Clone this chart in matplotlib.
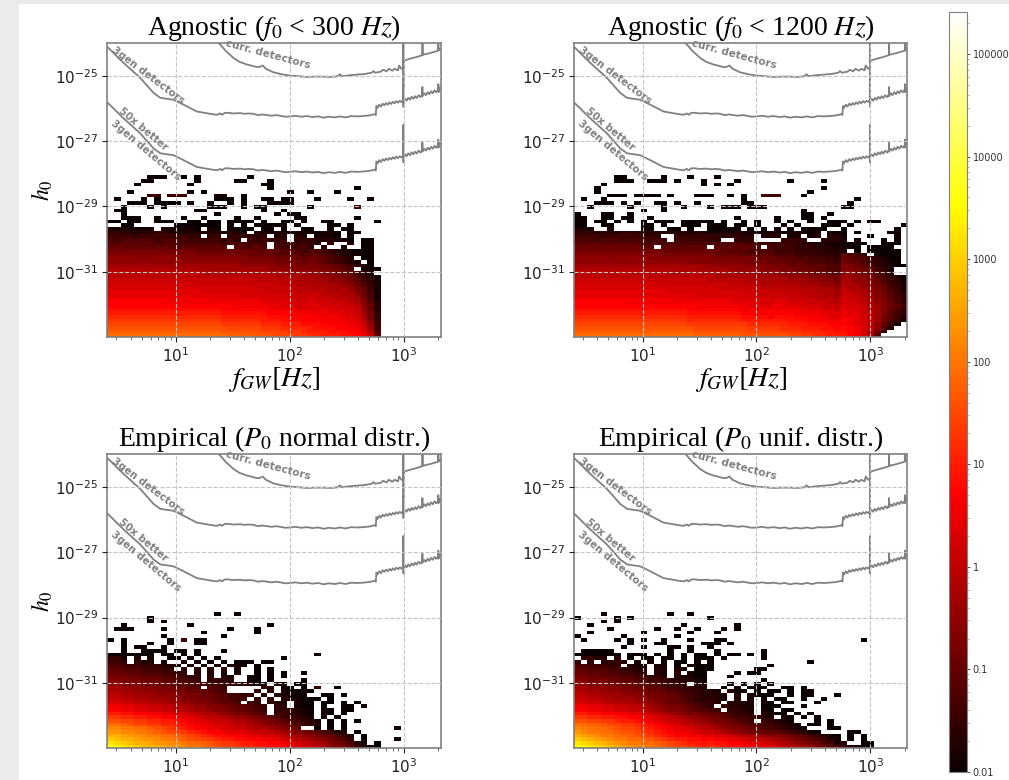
#!/usr/bin/env python3
import matplotlib
matplotlib.use('Agg')
import matplotlib.pyplot as plt
from matplotlib.colors import LogNorm
from matplotlib.patches import Rectangle
from matplotlib.ticker import FixedLocator, NullFormatter, LogLocator
import numpy as np

plt.rcParams['mathtext.fontset'] = 'stix'

TITLES = ['Agnostic ($f_0$ < 300 $Hz$)', 'Agnostic ($f_0$ < 1200 $Hz$)',
          'Empirical ($P_0$ normal distr.)', 'Empirical ($P_0$ unif. distr.)']
CBAR_TICKS = [0.01, 0.1, 1, 10, 100, 1000, 10000, 100000]
CBAR_LABELS = ['0.01', '0.1', '1', '10', '100', '1000', '10000', '100000']

# sensitivity curves, log10(f) and log10(h0)
LOGF_3GEN = [.401, .541, .687, .804, .863, .98, 1.067, 1.184, 1.316, 1.36, 1.39, 1.404, 1.43, 1.46, 1.5, 1.564,
             1.6, 1.64, 1.68, 1.72, 1.76, 1.8, 1.84, 1.88, 1.915, 1.96, 2.003, 2.05, 2.1, 2.15, 2.2, 2.25, 2.295,
             2.34, 2.4, 2.44, 2.49, 2.54, 2.588, 2.64, 2.7, 2.749, 2.755, 2.76, 2.77, 2.785, 2.8, 2.815, 2.83,
             2.845, 2.86, 2.875, 2.89, 2.905, 2.92, 2.935, 2.95, 2.965, 2.98, 2.996, 2.997, 2.998, 3.0, 3.012,
             3.025, 3.04, 3.055, 3.07, 3.085, 3.1, 3.114, 3.13, 3.148, 3.163, 3.164, 3.165, 3.18, 3.195, 3.21,
             3.225, 3.24, 3.255, 3.27, 3.285, 3.303, 3.304, 3.305, 3.319, 3.33]
LOGH_3GEN = [-24.12, -24.60, -25.06, -25.52, -25.67, -25.73, -25.88, -26.09, -26.17, -26.19, -26.15, -26.19, -26.13,
             -26.13, -26.15, -26.14, -26.16, -26.15, -26.16, -26.2, -26.18, -26.2, -26.22, -26.2, -26.22, -26.25,
             -26.24, -26.22, -26.25, -26.23, -26.26, -26.24, -26.28, -26.25, -26.27, -26.24, -26.27, -26.23, -26.24,
             -26.23, -26.21, -26.17, -26.2, -25.92, -25.98, -25.88, -25.94, -25.85, -25.9, -25.83, -25.88, -25.81,
             -25.86, -25.79, -25.84, -25.77, -25.82, -25.76, -25.8, -25.74, -25.25, -25.95, -25.74, -25.7, -25.76,
             -25.67, -25.73, -25.64, -25.7, -25.62, -25.68, -25.59, -25.65, -25.56, -25.34, -25.62, -25.53, -25.59,
             -25.5, -25.56, -25.47, -25.53, -25.44, -25.5, -25.42, -25.25, -25.5, -25.36, -25.4]
LOGH_50X = [-25.82, -26.30, -26.76, -27.22, -27.37, -27.43, -27.58, -27.79, -27.87, -27.89, -27.85, -27.89, -27.83,
            -27.83, -27.85, -27.84, -27.86, -27.85, -27.86, -27.9, -27.88, -27.9, -27.92, -27.9, -27.92, -27.95,
            -27.94, -27.92, -27.95, -27.93, -27.96, -27.94, -27.98, -27.95, -27.97, -27.94, -27.97, -27.93, -27.94,
            -27.93, -27.91, -27.87, -27.9, -27.62, -27.68, -27.58, -27.64, -27.55, -27.6, -27.53, -27.58, -27.51,
            -27.56, -27.49, -27.54, -27.47, -27.52, -27.46, -27.5, -27.44, -26.5, -27.65, -27.44, -27.4, -27.46,
            -27.37, -27.43, -27.34, -27.4, -27.32, -27.38, -27.29, -27.35, -27.26, -27.04, -27.32, -27.23, -27.29,
            -27.2, -27.26, -27.17, -27.23, -27.14, -27.2, -27.12, -26.95, -27.2, -27.06, -27.1]
LOGF_CURR = [1.374, 1.44, 1.506, 1.56, 1.623, 1.67, 1.71, 1.74, 1.763, 1.79, 1.857, 1.93, 2.003, 2.08, 2.149, 2.22,
             2.295, 2.36, 2.42, 2.44, 2.46, 2.52, 2.588, 2.66, 2.72, 2.734, 2.75, 2.8, 2.82, 2.85, 2.87, 2.9, 2.92,
             2.95, 2.96, 2.98, 2.996, 2.997, 2.998, 2.999, 3.012, 3.04, 3.07, 3.114, 3.15, 3.164, 3.165, 3.166,
             3.18, 3.23, 3.29, 3.303, 3.304, 3.305, 3.319, 3.33]
LOGH_CURR = [-23.98, -24.24, -24.45, -24.57, -24.65, -24.69, -24.73, -24.72, -24.68, -24.78, -24.89, -24.95, -24.99,
             -25.01, -25.03, -25.02, -25.02, -25.03, -25.01, -24.95, -25.01, -24.98, -24.96, -24.94, -24.9, -24.85,
             -24.9, -24.87, -24.81, -24.86, -24.78, -24.84, -24.78, -24.83, -24.68, -24.78, -24.76, -23.9, -25.4,
             -24.55, -24.52, -24.49, -24.46, -24.42, -24.38, -24.36, -23.9, -24.36, -24.34, -24.3, -24.24, -24.22,
             -23.9, -24.22, -24.17, -24.15]

# cell values, bottom row first: index in LEVELS, '.' is an empty cell
LEVELS = '0123456789abcdefghijklmnopqrstuvwxyzAB'
LEVEL_STEP = 0.15

CELLS_A = [
    'qqqqqqqqqq qqqqqqqqpp ppooonnnmm llkkkjjihe 6',
    'pppppppppp pppppppooo ooonnnmmml kkkjjjiigc 5',
    'oooooooooo oooooooonn nnnmmmllll kjjjiiihfb 4',
    'nnnnnnnnnn nnnnnnnmmm mmmlllkkkj jjiiihhgea 4',
    'mmmmmmmmmm mmmmmmmlll lllkkkjjji iiihhhggd9 3',
    'llllllllll lllllllkkk kkkkjjjiii ihhhhggfc8 3',
    'kkkkkkkkkk kkkkkkkjjj jjjjiiiihh hhhgggfeb8 3',
    'jjjjjjjjjj jjjjjjjiii iiiihhhhgg ggggfffea7 2',
    'iiiiiiiiii iiiiiiiiih hhhhhgggff ggfffeeda7 2',
    'iiiiiiiihh hhhhhhhhhh hhhggggfff fffeeedc96 2',
    'hhhhhhhhhh hhhhhggggg gggfffffee feeeddcb85 1',
    'gggggggggg gggggggggg fffffffeee eedddcca75 1',
    'gggggggggg ggggffffff ffffeeeedd dddcccb974 1',
    'ffffffffff ffffffffff ffeeeeeedd dcccbba864 1',
    'ffffffffff fffeeeeeee eeeeeedddc cccbba9753 1',
    'eeeeeeeeee eeeeeeeeee eeddddddcc cbbaa98643 1',
    'dddddddddd dddddddddd dddddccccb bbaa987532 1',
    'dddddddddd ddddcccccc ccccccbbbb aa99876421',
    'cccccccccc ccccbbbbbb bbbbaaa999 998876 5.11 0',
    'bbbbbbbbbb bbbbbbbbbb aaaaa99998 9887654310',
    'aaaaaaaaaa baaaaaaaaa 9999988887 876543 21.0',
    'aaaaa9aaaa a999999999 9888877776 776543 2.00',
    '9999999999 9998888888 8777766665 6654321100',
    '8888888888 8887777777 7776765654 5543211000',
    '6766666666 56666666.6 5565.54445 3.2..1..00',
    '6566666556 5555455455 5454.44434 32.3..2.00',
    '5455555455 4544444343 .434333.33 3222110.00',
    '4444344444 3433.33.33 3323.22.22 .1110.0',
    '3332222332 2122222122 1.21111111 10110.00',
    '2121111.11 1110.10.00 00.00.0..0 0..0.00',
    '..00...... 0000000.0. 0.00000.0. ...00.0',
    '00.00..000 ..00.00.00 00.0..00.0 ..00...... 0',
    '..000..0.. .0..0....0 ..0.....00 .......0',
    '..0....... ......0... .....0.00.',
    '.00....... ...00..... ...0..0...',
    '..0...0.0. .....000.. 0.00...... 0......4',
    '...000.000 0.0..0..0. 0...0000..',
    '.0...0.0.. ......000. 0..00.00.. .0....0..0',
    '......44.4 44....11.. 0.........',
    '...0...... ..0.0..... .......0.. 0...0',
    '.......... .......... ....0..... .......0',
    '....0..... ..0....... ...00.....',
    '.....00... ...0.....0 0...0.....',
    '......000. .0.0...... .0........',
]

CELLS_B = [
    'qqqqqqqqqq qqqqqqqqpp pppppooooo oonnmmllkk kihfc6',
    'pppppppppp ppppppppoo oooooonnnn nmmmlllkkj jihfc83',
    'oooooooooo oooooooonn nnnnnnmmmm mlllkkkjji jihfda62',
    'nnnnnnnnnn nnnnnnnmmm mmmmmmllll llkkkjjjii ihgfda741',
    'mmmmmmmmmm mmmmmmmlll lllllkkkkk kkjjjiiihh ihgfdb8531',
    'llllllllll lllllllkkk kkkkkjjjji jjjiiihhgg hhgfdb8642',
    'kkkkkkkkkk kkkkkkkjjj jjjjjiiiii iiihhhhggg hggedb9643',
    'jjjjjjjjjj jjjjjjjiii iiiiihhhhh hhhhgggffe ggfecb9753',
    'iiiiiiiiii iiiiiiiiih hhhhhhgggg hgggfffeee gffecb9764',
    'iiiiiiiihh hhhhhhhhhh hhhgggggff ggfffeeedd ffedca9753',
    'hhhhhhhhhh hhhhhggggg ggggffffff ffeeeedddc feedba8653',
    'gggggggggg ggggggggff fffffffeee eeeedddccb eedcb98643',
    'gggggggggg ggggffffff fffffeeeee eeddddcccb edcca97542',
    'ffffffffff ffffffffff feeeeeeedd ddddcccbba dccba87532',
    'ffffffffff fffeeeeeee eeeeddddcc dcccbbbaa9 ccba986431',
    'eeeeeeeeee eeeeeeeeee ddddddcccc ccbbbaa998 cbaa875421',
    'dddddddddd dddddddddd dccccccbbb bbaaa99988 baa9865320',
    'dddddddddd ddddcccccc cccbbbbbaa a999887765 aa987542..',
    'cccccccccc ccccccccbb bbbbaaaa99 9887776655 99876431..',
    'bbbbbbbbbb bbbbbbbbbb aaaaaa9999 8877766655 9876532100',
    'aaaaaaaaaa aaaaaaa999 9999988887 7766655544 876543210.',
    'aaaaa9aaaa a999999999 9888888777 6665554443 765532100.',
    '9999999999 9998888888 8777766666 5554443332 6543.1000.',
    '8888888888 8887777777 7766665555 4443333222 1.0.00000.',
    '7777777777 66.6666666 .6666665.5 4443332221 100.0000..',
    '6666666666 5555555555 5555554444 4443322211 0000..000.',
    '5554555455 4444.44444 33..333... .3333..222 1.1...0.0.',
    '4444344444 333..33333 3323322.22 2.12.12.22 1...0...0.',
    '3332322332 2222222122 1121211111 1011101.10 0.0....00.',
    '211..1.... 10..00.0.. 00000.0.0. 0.0.0000.. 0.......0.',
    '00..00.... 00.0..000. 000.00.0.. .0.0...000 .0.......0',
    '00.00.0.0. 0.000.0000 0.0..0.0.. 0.0..0..00 0.0.00....',
    '00..00.00. .0........ ....0..... 0...00.0..',
    '0...00..0. .......... .......... ....00..0.',
    '.......... 0..0...... .......... ....0.....',
    '..0.....0. ...0..0... 0.000.000. .......... 00',
    '...000.0.0 ..00.0..0. .....00... .......... .0',
    '.0..0..... .......... .....0.... .......... ..0',
    '.....000.0 000.0...00 0..0.0..44 4...0',
    '...0...... .......... .......... .....0',
    '...0...... .......... .......... .......0',
    '....0..... .........0 .0.0......',
    '......000. .000.0...0 ....0..... ..0....0',
    '......00.. ...0...0.. .0........',
]

CELLS_C = [
    'BAzyxwvvut tsrrqponnm llkkjjihgf edca986421 0',
    'zyxwvvutts srqqponmml kkjjiihgfe dcb987521. 0',
    'xwvvuttsrr qponnmlkkj jiihhgfedc ba98653.0. ...0',
    'vvuttsrrqq ponmlkjjii hggffedcba 9876531.0.',
    'ttssrrqpon nmlkjiihgg gfeedcba98 765421.0..',
    'ssrrqqponm lkjihhgffe edccba987. .0.0.0.... ...0',
    'qqponnmmll kjihhgffed dcba987654 32.0.0....',
    'oonnmmllkk jihggfeedc cba9876543 21.0.0.0..',
    'mmllkkjjii hggfeddcba a987654432 1.1.0.....',
    'kkjjiihhgg ffedccba98 8765.44321 0.10.0....',
    'iihhggffee ddcbba9987 6654.33321 0.10.00...',
    'hhggffeedd ccbaa99876 6543.32.10 0.0..00.0.',
    'ffeeddcccb baa9987665 .43.321.10 0.00.0.0..',
    'eeddccbbba a998876654 4.3.3.2110 00.0......',
    'ddccbbbaaa 9988776544 33.2.21100 ..00.0....',
    'ccbbaaa999 88776654.. ..3.2.1000 0.........',
    'bbaaa99988 7766.654.. ...32.10.0 .4..0.....',
    'aa99988877 6655444332 2210.10.00',
    '9988877766 5544.3332. .10.0....0',
    '8887776655 4433.2.21. .00.0.0...',
    '7776655544 33.3.2.1.1 ..0.0.0..0',
    '6655544433 .2.2.2.2.1 ..0.0.....',
    '5544433322 1.1.1.1.11 0.0.......',
    '443.322.1. .1.1.0.0.0 00.00.....',
    '331.2.1..0 0.0.0.0... ......0...',
    '0000000.00 .0.0...... .......... .0',
    '..0..0000. 00.0...0..',
    '..0.00..0. ..........',
    '..0...0..0 ...00.....',
    '0.0......0 .4.00.....',
    '........0. .......0..',
    '.......... ....0..... ..0',
    '.000....0. ........0. ..0',
    '..0....... ..0....... ....0',
    '......0.0.',
    '......0...',
    '.......... ......0..0',
]

CELLS_D = [
    'BAzyxwvuts rrqponnmlk lkkjjiihhg fedcba9865 32100',
    'zyxwvutsrr qqponmlkkj kjjiihggfe dcba987541 2..00',
    'xwvutsrrqq ponmlkkjji ihhggfeddc ba98765421 .0.0',
    'vutsrrqqpo nmlkjiihhg gffedccba9 9876543210 .0.0',
    'tsrrqqpoon mlkjihhgfe edcba98776 6543210... .00',
    'srrqqponnm lkjihggfed cba9987655 43210...00',
    'qqpponnmml kjihgfedcb ba98765544 3210.00.0.',
    'oonnmmlkkj ihgfeedcba 9887654.43 210...0.0.',
    'mmllkkjjii hgfedcba99 8765443322 .10.0.0...',
    'kkjjiihhgg fedcba9887 6654332.21 00.0.0....',
    'iihhggffee dcba998765 54.3321.10 .00.......',
    'hhggffeedd cba9887654 3.32211.00 0...0.....',
    'ffeeddcccb ba98776543 32.2211.10 .00...0...',
    'eeddccbbba a988765432 321.2.1.0. 00..0..0..',
    'ddccbbbaaa 9887765432 221.2.1000 ..0.00...0',
    'ccbbaaa998 8776554332 21.200.0.0 0.0.00....',
    'bbaaa99887 7665443322 ..0.1.000. .00.0.....',
    'aa99988776 6554433.22 ...0.0.0.0',
    '9988877665 5443322210 ........0.',
    '8877666554 4332.21100 ...0......',
    '7766655443 3.21.2.100 ....0.00..',
    '6655544322 2.21.21.00 0......00.',
    '5544433.21 1.11.0.100 0........0',
    '3.3.2332.1 .1.0.00.0. 0......... .....0....',
    '.3322.2.0. 00.00.0.00 0.0.....0.',
    '0000000.00 0.0.0.0.00 .0.00.0.0.',
    '.00000.... ....0..0.. .0......0.',
    '.......0.. 0...00.0.. 0.........',
    '........0. ..00.....0 00.0......',
    '.0....0.0. 0..0...0.. .00....... .......... ...0',
    '0......0.. .....0....',
    '..0....... 0......0.. .0........',
    '.....0.... ..0..0..0. ..0.0.....',
    '..0....... ......0... ....0.....',
    '....0.0...',
    '0.....0.0. .......... 0.........',
    '....0..... ....0..0..',
]

N_X, N_Y = 50, 80
GRAY = '#808080'
W, H = 1009.0, 780.0


def cells_to_grid(rows):
    # turn the strings into a masked array for pcolormesh
    grid = np.full((N_Y, N_X), np.nan)
    for r, row in enumerate(rows):
        row = row.replace(' ', '').ljust(N_X, '.')[:N_X]
        for c, ch in enumerate(row):
            if ch != '.':
                grid[r, c] = 10 ** (-2 + LEVELS.index(ch) * LEVEL_STEP)
    return np.ma.masked_invalid(grid)


def px_axes(x0, y0, x1, y1):
    return fig.add_axes([x0 / W, 1 - y1 / H, (x1 - x0) / W, (y1 - y0) / H])


fig = plt.figure(figsize=(10.09, 7.8), dpi=100, facecolor='white')
# page frame of the screenshot
fig.patches.append(Rectangle((0, 0), 19 / W, 1, transform=fig.transFigure, fc='#ebebeb', ec='none'))
fig.patches.append(Rectangle((0, 1 - 4 / H), 1, 4 / H, transform=fig.transFigure, fc='#ebebeb', ec='none'))

x_edges = np.logspace(np.log10(2.5), np.log10(2113), N_X + 1)
y_edges = np.logspace(-33, -24, N_Y + 1)
norm = LogNorm(vmin=0.01, vmax=2.57e5)
boxes = [(107.3, 43.3, 440.7, 337), (574, 43.3, 907.3, 337),
         (107.3, 454.3, 440.7, 748.3), (574, 454.3, 907.3, 748.3)]
all_cells = [CELLS_A, CELLS_B, CELLS_C, CELLS_D]

for i, box in enumerate(boxes):
    ax = px_axes(*box)
    mesh = ax.pcolormesh(x_edges, y_edges, cells_to_grid(all_cells[i]), cmap='hot', norm=norm)
    ax.set_xscale('log')
    ax.set_yscale('log')
    ax.set_xlim(2.5, 2113)
    ax.set_ylim(1e-33, 1e-24)

    ax.plot(10 ** np.array(LOGF_CURR), 10 ** np.array(LOGH_CURR), color=GRAY, lw=1.3)
    ax.plot(10 ** np.array(LOGF_3GEN), 10 ** np.array(LOGH_3GEN), color=GRAY, lw=1.3)
    ax.plot(10 ** np.array(LOGF_3GEN), 10 ** np.array(LOGH_50X), color=GRAY, lw=1.3)

    ax.text(63.7, 10 ** -24.34, 'curr. detectors', rotation=-15, color=GRAY, fontsize=7.6, fontweight='bold',
            ha='center', va='center')
    ax.text(5.75, 10 ** -24.99, '3gen detectors', rotation=-37, color=GRAY, fontsize=7.4, fontweight='bold',
            ha='center', va='center')
    ax.text(5.2, 10 ** -26.63, '50x better', rotation=-40, color=GRAY, fontsize=7.4, fontweight='bold',
            ha='center', va='center')
    ax.text(5.5, 10 ** -27.27, '3gen detectors', rotation=-40, color=GRAY, fontsize=7.4, fontweight='bold',
            ha='center', va='center')

    ax.set_yticks([1e-31, 1e-29, 1e-27, 1e-25])
    ax.yaxis.set_minor_locator(FixedLocator([]))
    ax.xaxis.set_major_locator(FixedLocator([10, 100, 1000]))
    ax.xaxis.set_minor_locator(LogLocator(base=10, subs=np.arange(2, 10), numticks=12))
    ax.xaxis.set_minor_formatter(NullFormatter())
    ax.tick_params(axis='both', which='major', labelsize=11, colors='#222222', length=3.5, width=0.8, pad=3)
    ax.tick_params(axis='x', which='minor', length=2, width=0.6, colors='#555555')
    ax.set_axisbelow(False)
    ax.grid(True, which='major', color='#c4c4c4', ls='--', lw=0.8)
    for sp in ax.spines.values():
        sp.set_color(GRAY)
        sp.set_linewidth(1.2)

    ax.set_title(TITLES[i], fontsize=20, family='Liberation Serif', pad=2)
    if i < 2:
        ax.set_xlabel('$f_{GW}[Hz]$', fontsize=20, labelpad=0)
    if i % 2 == 0:
        ax.set_ylabel('$h_0$', fontsize=17, labelpad=0)

cax = px_axes(948.5, 12, 967, 772)
cb = fig.colorbar(mesh, cax=cax)
cb.set_ticks(CBAR_TICKS)
cb.set_ticklabels(CBAR_LABELS)
cb.ax.tick_params(which='major', labelsize=7, length=2.5, width=0.6, colors='#333333', pad=1.5)
cb.ax.tick_params(which='minor', length=1.5, width=0.4, colors='#777777')
cb.outline.set_edgecolor(GRAY)
cb.outline.set_linewidth(0.8)

fig.savefig('out.png', dpi=100)
